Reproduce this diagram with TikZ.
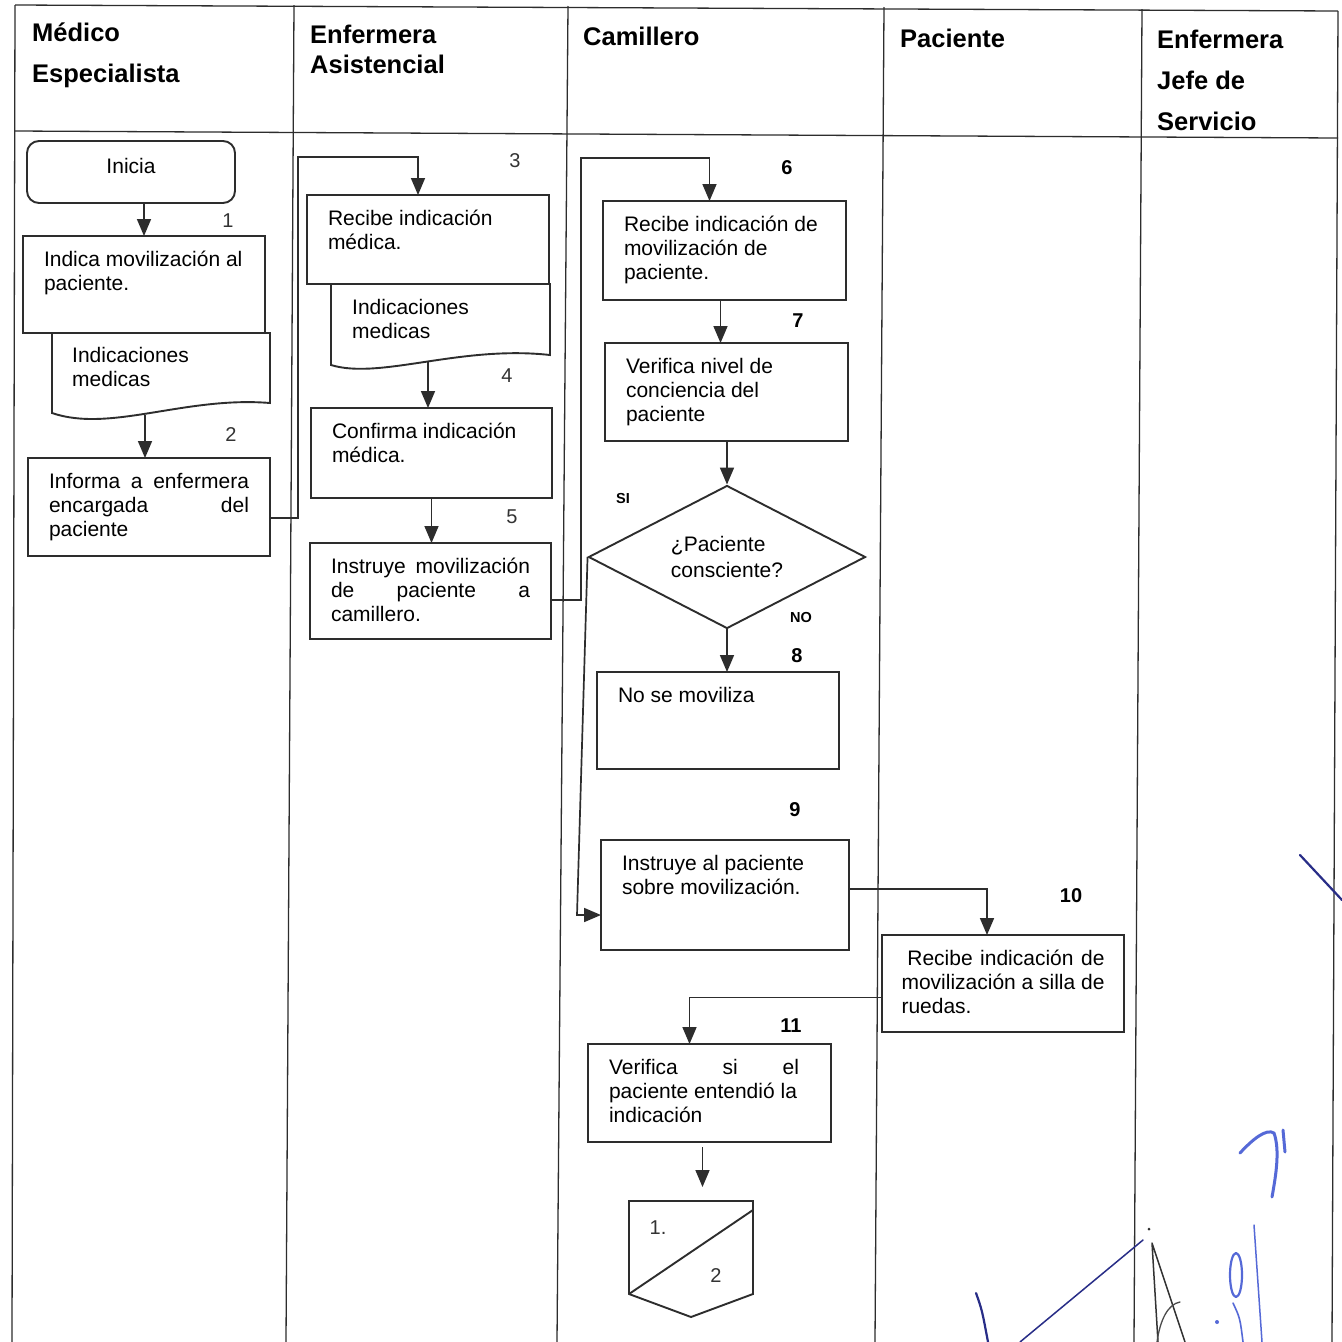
\documentclass[tikz,border=0pt]{standalone}
\usepackage{fontspec}
\setmainfont{Liberation Sans}
\usetikzlibrary{shapes.geometric,arrows.meta}

\definecolor{inkgray}{RGB}{45,45,45}
\definecolor{penblue}{RGB}{85,105,215}
\definecolor{pennavy}{RGB}{40,45,135}

% text of a process box, top aligned: height, width, lines
\newcommand{\steptext}[3]{\parbox[t][#1pt][t]{#2pt}{\strut #3}}

\tikzset{
    lane/.style={draw=inkgray, line width=1.3pt},
    lanehead/.style={anchor=base west, inner sep=0pt, text=black, font=\bfseries\fontsize{25.5}{41}\selectfont},
    stepbox/.style={draw=inkgray, line width=1.9pt, anchor=north west, inner xsep=21pt, inner ysep=14pt, outer sep=0pt, text=black, font=\fontsize{21}{24}\selectfont},
    startbox/.style={draw=inkgray, line width=1.9pt, rounded corners=12pt, minimum width=208pt, minimum height=62pt, text depth=12pt, text=black, font=\fontsize{21}{24}\selectfont},
    decision/.style={diamond, aspect=2, draw=inkgray, line width=1.9pt, minimum width=277pt, minimum height=143pt, inner sep=0pt, align=left, text=black, font=\fontsize{21}{26}\selectfont},
    docline/.style={draw=inkgray, line width=1.9pt},
    doctext/.style={anchor=base west, inner sep=0pt, text=black, font=\fontsize{21}{24}\selectfont},
    stepnum/.style={inner sep=0pt, text=black!80, font=\fontsize{20}{24}\selectfont},
    boldnum/.style={inner sep=0pt, text=black, font=\bfseries\fontsize{20}{24}\selectfont},
    answer/.style={inner sep=0pt, text=black, font=\bfseries\fontsize{14.5}{16}\selectfont},
    flow/.style={draw=inkgray, line width=1.7pt, -{Triangle[length=17pt,width=14pt]}},
    ink/.style={line width=2.2pt, line cap=round, line join=round}
}

\begin{document}
\begin{tikzpicture}[x=1pt, y=-1pt]
        \useasboundingbox (0,0) rectangle (1342,1342);
        \fill[white] (0,0) rectangle (1342,1342);

        % Draw the lanes
        \draw[lane] (15,5) -- (1338,11);
        \draw[lane] (15,131) -- (1338,138);
        \draw[lane] (15,5) -- (12,1342);
        \draw[lane] (294,5) -- (286,1342);
        \draw[lane] (568,6) -- (557,1342);
        \draw[lane] (884,7) -- (875,1342);
        \draw[lane] (1142,9) -- (1134,1342);
        \draw[lane] (1338,11) -- (1332,1342);

        % Lane titles
        \node[lanehead] (hmed) at (32,41) {\parbox[t]{250pt}{Médico\\Especialista}};
        \node[lanehead, font=\bfseries\fontsize{25.5}{30}\selectfont] (hasis) at (310,43) {\parbox[t]{250pt}{Enfermera\\Asistencial}};
        \node[lanehead] (hcam) at (583,45) {Camillero};
        \node[lanehead] (hpac) at (900,47) {Paciente};
        \node[lanehead] (hjefe) at (1157,48) {\parbox[t]{180pt}{Enfermera\\Jefe de\\Servicio}};

        % Medico Especialista
        \node[startbox] (inicia) at (131,172) {Inicia};
        \node[stepbox] (b1) at (23,236) {\steptext{69}{200}{Indica movilización al\\paciente.}};
        \draw[docline] (52,333) -- (52,413) .. controls (110,433) and (185,396) .. (270,403) -- (270,333) -- cycle;
        \node[doctext] (doc1) at (72,362) {\parbox[t]{180pt}{Indicaciones\\medicas}};
        \coordinate (doc1out) at (145,415);
        \node[stepbox] (b2) at (28,458) {\steptext{70}{200}{Informa \hfill a \hfill enfermera\\encargada \hfill del\\paciente}};

        % Enfermera Asistencial
        \node[stepbox] (b3) at (307,195) {\steptext{61}{200}{Recibe indicación\\médica.}};
        \draw[docline] (331,284) -- (331,365) .. controls (380,380) and (460,345) .. (550,355) -- (550,284) -- cycle;
        \node[doctext] (doc2) at (352,314) {\parbox[t]{180pt}{Indicaciones\\medicas}};
        \coordinate (doc2out) at (428,362);
        \node[stepbox] (b4) at (311,408) {\steptext{62}{199}{Confirma indicación\\médica.}};
        \node[stepbox] (b5) at (310,543) {\steptext{68}{199}{Instruye \hfill movilización\\de \hfill paciente \hfill a\\camillero.}};

        % Camillero
        \node[stepbox] (b6) at (603,201) {\steptext{71}{201}{Recibe indicación de\\movilización de\\paciente.}};
        \node[stepbox] (b7) at (605,343) {\steptext{70}{201}{Verifica nivel de\\conciencia del\\paciente}};
        \node[decision] (dia) at (727,557) {¿Paciente\\consciente?};
        \node[stepbox] (b8) at (597,672) {\steptext{69}{200}{No se moviliza}};
        \node[stepbox] (b9) at (601,840) {\steptext{82}{206}{Instruye al paciente\\sobre movilización.}};
        \node[stepbox] (b11) at (588,1044) {\steptext{70}{201}{Verifica \hfill si \hfill el\hspace*{11pt}\\paciente entendió la\\indicación}};

        % Paciente
        \node[stepbox, inner xsep=19.5pt] (b10) at (882,935) {\steptext{69}{203}{\ Recibe \hfill indicación \hfill de\\movilización \hfill a \hfill silla \hfill de\\ruedas.}};

        % Off-page connector
        \coordinate (optop) at (691,1201);
        \draw[docline] (629,1201) -- (753,1201) -- (753,1294) -- (691,1317) -- (629,1294) -- cycle;
        \draw[docline] (629,1294) -- (753,1210);
        \node[stepnum] (op1) at (658,1228) {1.};
        \node[stepnum] (op2) at (716,1276) {2};

        % Step numbers
        \node[stepnum] (n1) at (228,221) {1};
        \node[stepnum] (n2) at (231,435) {2};
        \node[stepnum] (n3) at (515,161) {3};
        \node[stepnum] (n4) at (507,376) {4};
        \node[stepnum] (n5) at (512,517) {5};
        \node[boldnum] (n6) at (787,168) {6};
        \node[boldnum] (n7) at (798,321) {7};
        \node[boldnum] (n8) at (797,656) {8};
        \node[boldnum] (n9) at (795,810) {9};
        \node[boldnum] (n10) at (1071,896) {10};
        \node[boldnum] (n11) at (791,1026) {11};
        \node[answer] (lsi) at (623,498) {SI};
        \node[answer] (lno) at (801,617) {NO};

        % Draw the arrows between the steps
        \coordinate (j1) at (298,157);
        \coordinate (j2) at (581,158);
        \coordinate (sibend) at (577,915);
        \draw[flow] (inicia.south -| b1.north) -- (b1.north);
        \draw[flow] (doc1out) -- (doc1out |- b2.north);
        \draw[flow] ([yshift=-11pt]b2.east) -| (j1) -| ([xshift=-10pt]b3.north);
        \draw[flow] (doc2out) -- (doc2out |- b4.north);
        \draw[flow] (b4.south) -- (b4.south |- b5.north);
        \draw[flow] ([yshift=-9pt]b5.east) -| (j2) -| ([xshift=-15pt]b6.north);
        \draw[flow] ([xshift=-4pt]b6.south) -- ([xshift=-4pt]b6.south |- b7.north);
        \draw[flow] (b7.south -| dia.north) -- (dia.north);
        \draw[flow] (dia.south) -- (dia.south |- b8.north);
        \draw[flow] (dia.west) -- (sibend) -- (sibend -| b9.west);
        \draw[flow] ([yshift=6pt]b9.east) -| ([xshift=-16pt]b10.north);
        \draw[flow] ([yshift=-14pt]b10.west) -| ([xshift=-20pt]b11.north);
        \draw[flow, shorten <=5pt, shorten >=14pt] ([xshift=-7pt]b11.south) -- ([xshift=-7pt]b11.south |- optop);

        % Signatures
        \draw[ink, pennavy] (1300,855) -- (1342,900);
        \draw[ink, penblue, line width=3pt] (1240,1153) .. controls (1252,1140) and (1266,1128) .. (1274,1133) .. controls (1280,1150) and (1276,1175) .. (1272,1197);
        \draw[ink, penblue, line width=3pt] (1283,1130) -- (1285,1152);
        \draw[ink, penblue] (1236,1275) ellipse (6 and 22);
        \draw[ink, penblue, line width=1.6pt] (1233,1303) .. controls (1240,1318) .. (1243,1342);
        \draw[ink, penblue, line width=1.5pt] (1254,1225) -- (1262,1342);
        \fill[penblue] (1217,1322) circle (2);
        \draw[ink, pennavy, line width=1.5pt] (1143,1240) -- (1020,1342);
        \fill[inkgray] (1149,1229) circle (1.5);
        \draw[ink, pennavy] (976,1293) .. controls (982,1310) .. (988,1342);
        \draw[ink, black!80, line width=1.5pt] (1158,1342) -- (1152,1243) -- (1185,1342);
        \draw[ink, black!70, line width=1.3pt] (1180,1302) .. controls (1168,1304) and (1160,1320) .. (1157,1342);
\end{tikzpicture}
\end{document}
